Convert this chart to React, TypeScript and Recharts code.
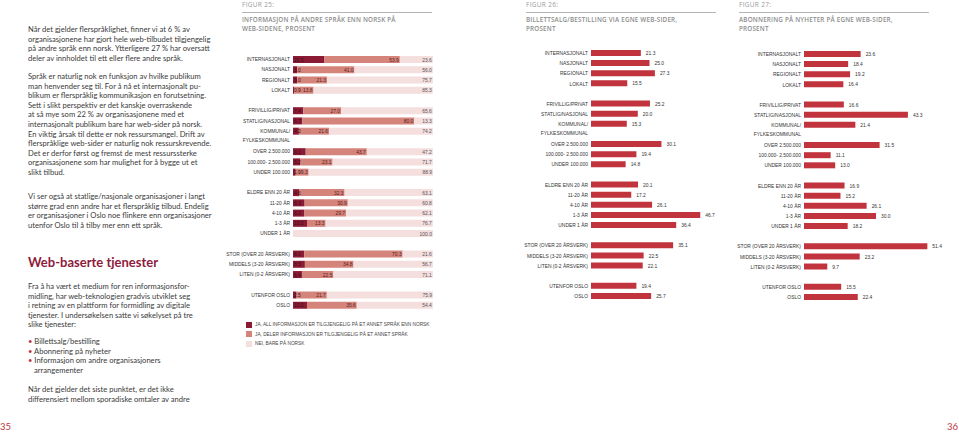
import React from "react";
import { BarChart, Bar, XAxis, YAxis, LabelList } from "recharts";

// ---------- DATA ----------
const categories = [
  "INTERNASJONALT", "NASJONALT", "REGIONALT", "LOKALT", " ",
  "FRIVILLIG/PRIVAT", "STATLIG/NASJONAL", "KOMMUNAL/\nFYLKESKOMMUNAL", "  ",
  "OVER 2.500.000", "100.000- 2.500.000", "UNDER 100.000", "   ",
  "ELDRE ENN 20 ÅR", "11-20 ÅR", "4-10 ÅR", "1-3 ÅR", "UNDER 1 ÅR", "    ",
  "STOR (OVER 20 ÅRSVERK)", "MIDDELS (3-20 ÅRSVERK)", "LITEN (0-2 ÅRSVERK)", "     ",
  "UTENFOR OSLO", "OSLO",
];

const fig25All = [22.5, 3.0, 3.0, 0.9, null, 7.4, 6.7, 4.2, null, 9.1, 5.2, 1.9, null, 4.6, 8.3, 8.2, 10.0, 0, null, 8.1, 8.5, 6.4, null, 2.5, 10.0];
const fig25Part = [53.9, 41.0, 21.3, 13.8, null, 27.0, 80.0, 21.6, null, 43.7, 23.1, 9.3, null, 32.3, 30.9, 29.7, 13.3, 0, null, 70.3, 34.8, 22.5, null, 21.7, 35.6];
const fig25None = [23.6, 56.0, 75.7, 85.3, null, 65.6, 13.3, 74.2, null, 47.2, 71.7, 88.9, null, 63.1, 60.8, 62.1, 76.7, 100.0, null, 21.6, 56.7, 71.1, null, 75.9, 54.4];

const fig26Values = [21.3, 25.0, 27.3, 15.5, null, 25.2, 20.0, 15.3, null, 30.1, 19.4, 14.8, null, 20.1, 17.2, 26.1, 46.7, 36.4, null, 35.1, 22.5, 22.1, null, 19.4, 25.7];
const fig27Values = [23.6, 18.4, 19.2, 16.4, null, 16.6, 43.3, 21.4, null, 31.5, 11.1, 13.0, null, 16.9, 15.2, 26.1, 30.0, 18.2, null, 51.4, 23.2, 9.7, null, 15.5, 22.4];

const legend25 = [
  "JA, ALL INFORMASJON ER TILGJENGELIG PÅ ET ANNET SPRÅK ENN NORSK",
  "JA, DELER INFORMASJON ER TILGJENGELIG PÅ ET ANNET SPRÅK",
  "NEI, BARE PÅ NORSK",
];

const fig25Data = categories.map((name, i) => ({ name, all: fig25All[i], part: fig25Part[i], none: fig25None[i] }));
const fig26Data = categories.map((name, i) => ({ name, value: fig26Values[i] }));
const fig27Data = categories.map((name, i) => ({ name, value: fig27Values[i] }));

// ---------- STYLE ----------
const NARROW = "'Liberation Sans', Arial, sans-serif";
const SQ = 0.82; // horizontal squeeze to mimic a narrow face
const BODY = "Lato, 'Open Sans', sans-serif";
const C_DARK = "#8b1a35";
const C_MID = "#d4847b";
const C_LIGHT = "#f4dede";
const C_RED = "#c1343e";

const Tick = (props: any) => {
  const { x, y, payload } = props;
  const lines = String(payload.value).split("\n");
  return (
    <g transform={`translate(${x},${y})`}>
      <text x={0} y={0} transform={`scale(${SQ},1)`} textAnchor="end" fontSize={6} fill="#333" fontFamily={NARROW}>
        {lines.map((l, i) => (
          <tspan key={i} x={0} dy={i === 0 ? "0.35em" : 9}>{l}</tspan>
        ))}
      </text>
    </g>
  );
};

const SmallText = ({ x, y, anchor, fill, children }: any) => (
  <g transform={`translate(${x},${y})`}>
    <text x={0} y={0} dy="0.35em" transform={`scale(${SQ},1)`} textAnchor={anchor} fontSize={6} fill={fill} fontFamily={NARROW}>
      {children}
    </text>
  </g>
);

const segLabel = (align: "start" | "end", fill: string) => (props: any) => {
  const { x, y, width, height, value } = props;
  if (value == null || value === 0) return null;
  const tx = align === "start" ? Number(x) + 1 : Number(x) + Number(width) - 1;
  return <SmallText x={tx} y={Number(y) + Number(height) / 2} anchor={align} fill={fill}>{Number(value).toFixed(1)}</SmallText>;
};

const rightLabel = (props: any) => {
  const { x, y, width, height, value } = props;
  if (value == null) return null;
  return <SmallText x={Number(x) + Number(width) + 5} y={Number(y) + Number(height) / 2} anchor="start" fill="#333">{Number(value).toFixed(1)}</SmallText>;
};

const abs = (left: number, top: number, extra: React.CSSProperties = {}): React.CSSProperties => ({
  position: "absolute", left, top, ...extra,
});

const FigHeader = ({ left, width, num, title }: { left: number; width: number; num: string; title: string[] }) => (
  <>
    <div style={abs(left, 1, { fontFamily: "'Open Sans', sans-serif", fontSize: 6.5, color: "#9a9a9a", letterSpacing: 0.3, lineHeight: "8px", whiteSpace: "nowrap" })}>{num}</div>
    <div style={abs(left, 12, { width, borderTop: "1px solid #b5b5b5" })} />
    <div style={abs(left, 16, { fontFamily: "'Open Sans', sans-serif", fontSize: 6.3, fontWeight: 600, color: "#8c8c8c", letterSpacing: 0.2, lineHeight: "8.6px", whiteSpace: "nowrap" })}>
      {title.map((t, i) => (<div key={i}>{t}</div>))}
    </div>
  </>
);

const bodyStyle = (top: number): React.CSSProperties => abs(28, top, {
  fontFamily: BODY, fontSize: 7.6, color: "#3a3a3a", lineHeight: "9.6px", whiteSpace: "nowrap",
});

const Lines = ({ top, lines }: { top: number; lines: string[] }) => (
  <div style={bodyStyle(top)}>
    {lines.map((l, i) => (<div key={i}>{l}</div>))}
  </div>
);

export default function App() {
  return (
    <div style={{ position: "absolute", left: 0, top: 0, width: 959, height: 434, background: "#fff", overflow: "hidden" }}>
      {/* Left page text */}
      <Lines top={25} lines={[
        "Når det gjelder flerspråklighet, finner vi at 6 % av",
        "organisasjonene har gjort hele web-tilbudet tilgjengelig",
        "på andre språk enn norsk. Ytterligere 27 % har oversatt",
        "deler av innholdet til ett eller flere andre språk.",
      ]} />
      <Lines top={72} lines={[
        "Språk er naturlig nok en funksjon av hvilke publikum",
        "man henvender seg til. For å nå et internasjonalt pu-",
        "blikum er flerspråklig kommunikasjon en forutsetning.",
        "Sett i slikt perspektiv er det kanskje overraskende",
        "at så mye som 22 % av organisasjonene med et",
        "internasjonalt publikum bare har web-sider på norsk.",
        "En viktig årsak til dette er nok ressursmangel. Drift av",
        "flerspråklige web-sider er naturlig nok ressurskrevende.",
        "Det er derfor først og fremst de mest ressurssterke",
        "organisasjonene som har mulighet for å bygge ut et",
        "slikt tilbud.",
      ]} />
      <Lines top={192} lines={[
        "Vi ser også at statlige/nasjonale organisasjoner i langt",
        "større grad enn andre har et flerspråklig tilbud. Endelig",
        "er organisasjoner i Oslo noe flinkere enn organisasjoner",
        "utenfor Oslo til å tilby mer enn ett språk.",
      ]} />
      <div style={abs(28, 252, { fontFamily: BODY, fontSize: 13, fontWeight: 700, color: "#8e1b3c", lineHeight: "20px", whiteSpace: "nowrap" })}>
        Web-baserte tjenester
      </div>
      <Lines top={282} lines={[
        "Fra å ha vært et medium for ren informasjonsfor-",
        "midling, har web-teknologien gradvis utviklet seg",
        "i retning av en plattform for formidling av digitale",
        "tjenester. I undersøkelsen satte vi søkelyset på tre",
        "slike tjenester:",
      ]} />
      <div style={bodyStyle(337)}>
        <div><span style={{ color: "#c1343e" }}>•</span> Billettsalg/bestilling</div>
        <div><span style={{ color: "#c1343e" }}>•</span> Abonnering på nyheter</div>
        <div><span style={{ color: "#c1343e" }}>•</span> Informasjon om andre organisasjoners</div>
        <div style={{ paddingLeft: 6 }}>arrangementer</div>
      </div>
      <Lines top={385} lines={[
        "Når det gjelder det siste punktet, er det ikke",
        "differensiert mellom sporadiske omtaler av andre",
      ]} />
      <div style={abs(0, 421, { fontFamily: BODY, fontSize: 9.5, color: "#c1343e", lineHeight: "12px" })}>35</div>
      <div style={abs(947, 421, { fontFamily: BODY, fontSize: 9.5, color: "#c1343e", lineHeight: "12px" })}>36</div>

      {/* Figure 25 */}
      <FigHeader left={242} width={190} num="FIGUR 25:" title={["INFORMASJON PÅ ANDRE SPRÅK ENN NORSK PÅ", "WEB-SIDENE, PROSENT"]} />
      <div style={abs(220, 0)}>
        <BarChart width={218} height={320} data={fig25Data} layout="vertical" margin={{ top: 54, right: 5, bottom: 10, left: 0 }} barSize={7}>
          <XAxis type="number" hide domain={[0, 100]} />
          <YAxis type="category" dataKey="name" width={73} axisLine={false} tickLine={false} tickSize={0} tickMargin={3} interval={0} tick={(p: any) => <Tick {...p} />} />
          <Bar dataKey="all" stackId="a" fill={C_DARK} isAnimationActive={false}>
            <LabelList dataKey="all" content={segLabel("start", "#3b0d18")} />
          </Bar>
          <Bar dataKey="part" stackId="a" fill={C_MID} isAnimationActive={false}>
            <LabelList dataKey="part" content={segLabel("end", "#5a1d1d")} />
          </Bar>
          <Bar dataKey="none" stackId="a" fill={C_LIGHT} isAnimationActive={false}>
            <LabelList dataKey="none" content={segLabel("end", "#555")} />
          </Bar>
        </BarChart>
      </div>
      <div style={abs(246, 320, { fontFamily: NARROW, fontSize: 5.8, color: "#444", lineHeight: "9.6px", whiteSpace: "nowrap" })}>
        {legend25.map((t, i) => (
          <div key={i} style={{ display: "flex", alignItems: "center" }}>
            <span style={{ display: "inline-block", width: 6, height: 6, background: [C_DARK, C_MID, C_LIGHT][i], marginRight: 3 }} />
            <span style={{ display: "inline-block", transform: `scaleX(${SQ})`, transformOrigin: "left center" }}>{t}</span>
          </div>
        ))}
      </div>

      {/* Figure 26 */}
      <FigHeader left={526} width={190} num="FIGUR 26:" title={["BILLETTSALG/BESTILLING VIA EGNE WEB-SIDER,", "PROSENT"]} />
      <div style={abs(500, 0)}>
        <BarChart width={228} height={311} data={fig26Data} layout="vertical" margin={{ top: 48, right: 20, bottom: 10, left: 0 }} barSize={6}>
          <XAxis type="number" hide domain={[0, 50]} />
          <YAxis type="category" dataKey="name" width={91} axisLine={false} tickLine={false} tickSize={0} tickMargin={3} interval={0} tick={(p: any) => <Tick {...p} />} />
          <Bar dataKey="value" fill={C_RED} isAnimationActive={false}>
            <LabelList dataKey="value" content={rightLabel} />
          </Bar>
        </BarChart>
      </div>

      {/* Figure 27 */}
      <FigHeader left={739} width={190} num="FIGUR 27:" title={["ABONNERING PÅ NYHETER PÅ EGNE WEB-SIDER,", "PROSENT"]} />
      <div style={abs(730, 0)}>
        <BarChart width={228} height={312} data={fig27Data} layout="vertical" margin={{ top: 49, right: 10, bottom: 10, left: 0 }} barSize={6}>
          <XAxis type="number" hide domain={[0, 60]} />
          <YAxis type="category" dataKey="name" width={74} axisLine={false} tickLine={false} tickSize={0} tickMargin={3} interval={0} tick={(p: any) => <Tick {...p} />} />
          <Bar dataKey="value" fill={C_RED} isAnimationActive={false}>
            <LabelList dataKey="value" content={rightLabel} />
          </Bar>
        </BarChart>
      </div>
    </div>
  );
}
